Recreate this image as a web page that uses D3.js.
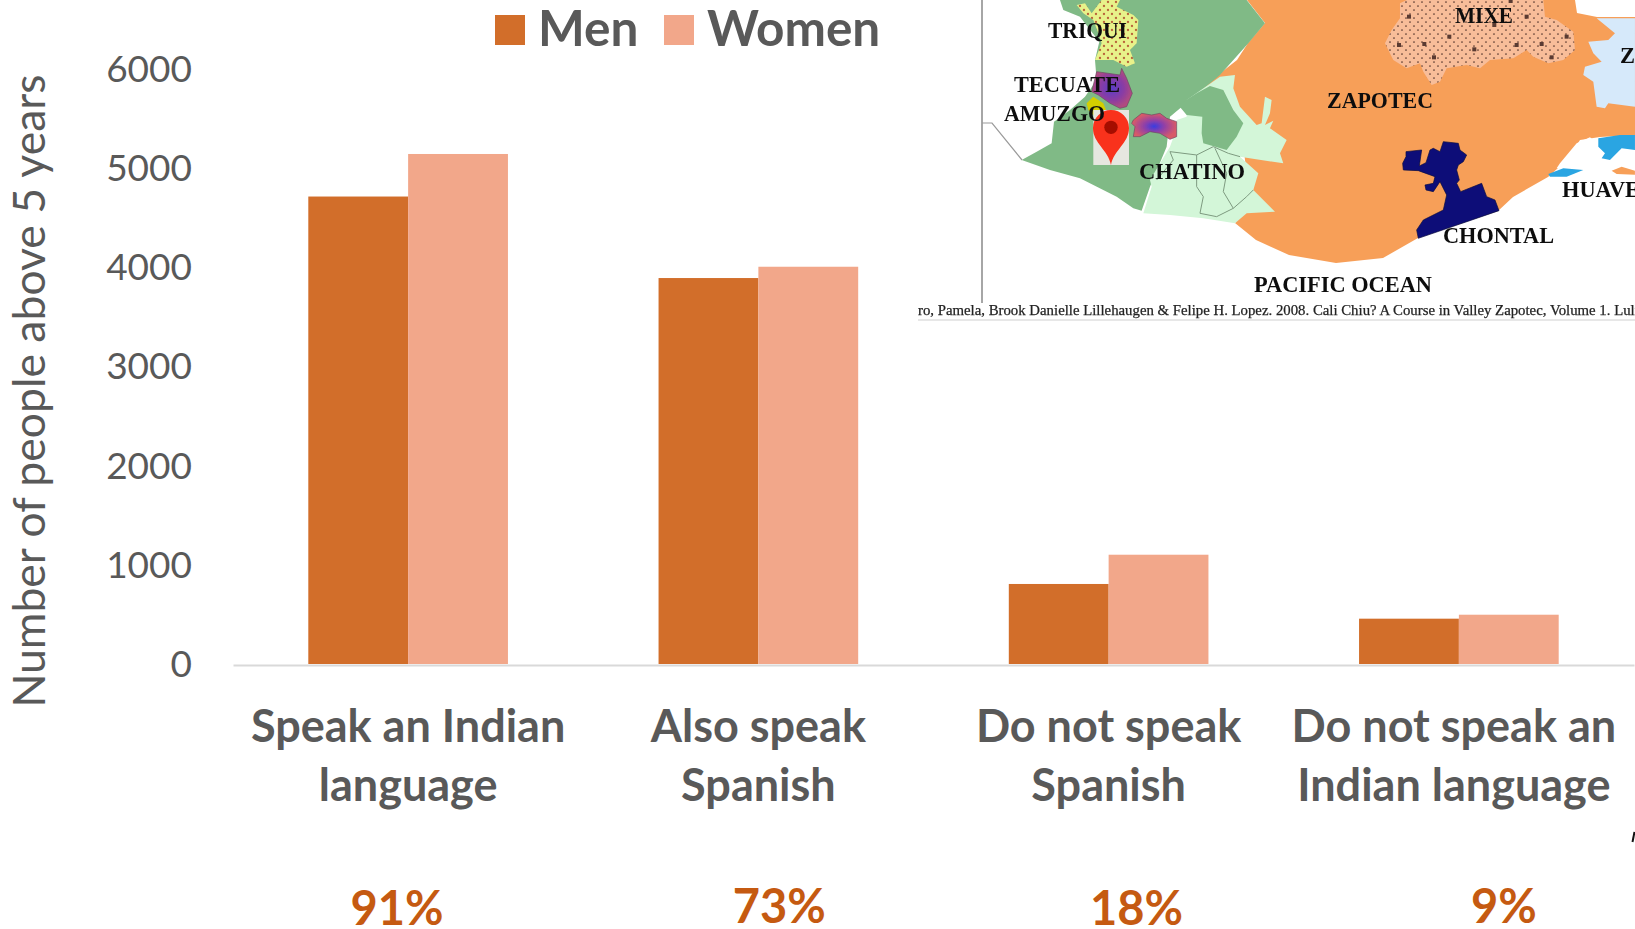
<!DOCTYPE html>
<html>
<head>
<meta charset="utf-8">
<script src="https://cdn.jsdelivr.net/npm/d3@7"></script>
<style>
html, body { margin: 0; padding: 0; background: #fff; overflow: hidden; }
svg { display: block; }
</style>
</head>
<body>
<script>
var w = 1635;
var h = 929;

// chart values
var categories = ["Speak an Indian language", "Also speak Spanish", "Do not speak Spanish", "Do not speak an Indian language"];
var categoryLines = [["Speak an Indian", "language"], ["Also speak", "Spanish"], ["Do not speak", "Spanish"], ["Do not speak an", "Indian language"]];
var seriesNames = ["Men", "Women"];
var men = [4714, 3892, 807, 457];
var women = [5143, 4006, 1102, 497];
var percents = ["91%", "73%", "18%", "9%"];
var yTicks = [0, 1000, 2000, 3000, 4000, 5000, 6000];

// where the labels sit relative to the band centre
var labelShift = [0, 0, 0, -5];
var percentShift = [-11, 21, 28, 45];
var percentBase = [925, 923, 925, 923];

var colors = ["#d26e2a", "#f2a78a"];
var grey = "#595959";
var font = "Lato, 'Open Sans', sans-serif";

var svg = d3.select("body").append("svg")
    .attr("width", w)
    .attr("height", h)
    .attr("viewBox", "0 0 " + w + " " + h);

var defs = svg.append("defs");

/* ---------- chart ---------- */

var x = d3.scaleBand()
    .domain(categories)
    .range([233, 1634])
    .paddingInner(0.43)
    .paddingOuter(0.215);

var x1 = d3.scaleBand()
    .domain(seriesNames)
    .range([0, x.bandwidth()]);

var y = d3.scaleLinear()
    .domain([0, 6000])
    .range([664, 69]);

var rows = categories.map(function (c, i) {
    return { cat: c, values: [men[i], women[i]] };
});

var bars = svg.selectAll(".cat")
    .data(rows)
    .enter().append("g")
    .attr("class", "cat")
    .attr("transform", function (d) { return "translate(" + x(d.cat) + ",0)"; });

bars.selectAll("rect")
    .data(function (d) { return d.values; })
    .enter().append("rect")
    .attr("x", function (d, i) { return x1(seriesNames[i]); })
    .attr("y", function (d) { return y(d); })
    .attr("width", x1.bandwidth())
    .attr("height", function (d) { return y(0) - y(d); })
    .attr("fill", function (d, i) { return colors[i]; });

var yAxis = svg.append("g")
    .attr("transform", "translate(195,0.5)")
    .call(d3.axisLeft(y).tickValues(yTicks).tickSize(0).tickPadding(3).tickFormat(d3.format("d")));
yAxis.select(".domain").remove();
yAxis.selectAll("text")
    .attr("font-family", font)
    .attr("font-size", 37)
    .attr("fill", grey);

var xAxis = svg.append("g")
    .attr("transform", "translate(0,665)")
    .call(d3.axisBottom(x).tickSize(0).tickFormat(""));
xAxis.select(".domain").attr("stroke", "#d9d9d9").attr("stroke-width", 2);
xAxis.selectAll("text").remove();

svg.append("g").selectAll("text")
    .data(categories)
    .enter().append("text")
    .attr("text-anchor", "middle")
    .attr("font-family", font)
    .attr("font-weight", 700)
    .attr("font-size", 45)
    .attr("fill", grey)
    .each(function (d, i) {
        var cx = x(d) + x.bandwidth() / 2 + labelShift[i];
        d3.select(this).selectAll("tspan")
            .data(categoryLines[i])
            .enter().append("tspan")
            .attr("x", cx)
            .attr("y", function (t, j) { return 742 + j * 59; })
            .text(function (t) { return t; });
    });

svg.append("g").selectAll("text")
    .data(percents)
    .enter().append("text")
    .attr("x", function (d, i) { return x(categories[i]) + x.bandwidth() / 2 + percentShift[i]; })
    .attr("y", function (d, i) { return percentBase[i]; })
    .attr("text-anchor", "middle")
    .attr("font-family", font)
    .attr("font-weight", 700)
    .attr("font-size", 47)
    .attr("fill", "#c55a11")
    .text(function (d) { return d; });

svg.append("text")
    .attr("transform", "translate(45,391) rotate(-90)")
    .attr("text-anchor", "middle")
    .attr("font-family", font)
    .attr("font-size", 44.5)
    .attr("fill", grey)
    .text("Number of people above 5 years");

// legend
var legendX = [495, 664];
var legend = svg.append("g").selectAll("g")
    .data(seriesNames)
    .enter().append("g")
    .attr("transform", function (d, i) { return "translate(" + legendX[i] + ",15)"; });
legend.append("rect")
    .attr("width", 30)
    .attr("height", 30)
    .attr("fill", function (d, i) { return colors[i]; });
legend.append("text")
    .attr("x", 43)
    .attr("y", 31)
    .attr("font-family", font)
    .attr("font-weight", 700)
    .attr("font-size", 49.5)
    .attr("fill", grey)
    .text(function (d) { return d; });

// stray mark at the right edge
svg.append("path")
    .attr("d", d3.line()([[1634.5, 832], [1632.5, 842]]))
    .attr("stroke", "#111")
    .attr("stroke-width", 2)
    .attr("fill", "none");

/* ---------- map inset (a pasted picture in the original) ---------- */

// outlines; west and east are 3x crops, orangeShape is page px
var orangeShape = [[1247,0],[1265,23],[1248,43],[1237,60],[1218,75],[1197,87],[1177,100],[1182,105],[1197,95],[1220,87],[1240,120],[1250,200],[1235,223],[1256,240],[1289,255],[1336,263],[1383,258],[1418,238],[1498,211],[1513,197],[1548,177],[1567,160],[1580,140],[1600,137],[1635,135],[1635,17],[1597,17],[1577,13],[1575,0]];
var greenShape = [[270,0],[830,0],[885,70],[835,130],[750,225],[660,300],[600,350],[590,440],[540,560],[515,632],[490,625],[440,590],[330,535],[240,510],[155,480],[200,455],[245,430],[252,365],[300,330],[345,290],[380,240],[375,180],[388,125],[330,50],[280,30]];
var paleShape = [[750,230],[795,225],[790,265],[810,320],[860,375],[875,370],[885,290],[905,300],[900,340],[885,375],[910,362],[900,385],[950,420],[930,460],[940,490],[810,470],[865,520],[850,570],[915,635],[830,640],[795,670],[700,655],[600,645],[520,640],[545,560],[540,540],[600,440],[620,385],[620,360],[650,350],[650,300]];
var pocketShape = [[680,280],[720,258],[760,270],[790,330],[820,370],[800,410],[770,450],[700,430],[695,400],[697,350],[650,345],[625,315]];
var triquiShape = [[320,15],[345,10],[365,40],[395,0],[450,0],[440,20],[490,45],[505,60],[500,130],[480,150],[495,190],[470,200],[430,180],[375,180],[395,130],[385,100],[370,60],[340,40]];
var tecuateShape = [[380,215],[450,225],[455,205],[470,235],[487,280],[470,320],[450,325],[420,310],[385,285],[365,275]];
var blobShape = [[490,360],[515,340],[545,345],[570,340],[590,355],[620,365],[620,410],[600,418],[570,400],[540,395],[510,410],[490,410],[495,380],[485,370]];
var amuzgoShape = [[350,310],[370,290],[400,310],[410,335],[370,345],[355,330]];
var borderLines = [
    [[600,455],[680,465],[730,440],[775,460],[810,470]],
    [[680,465],[680,510],[680,560],[700,590],[690,640],[740,650],[790,625],[830,590],[850,570]],
    [[735,445],[770,520],[760,575],[790,625]],
    [[600,455],[610,480],[560,540]]
];
var mixeShape = [[300,10],[320,0],[730,0],[735,50],[770,60],[820,95],[825,150],[790,180],[745,190],[700,170],[680,150],[640,175],[570,180],[540,205],[500,195],[440,205],[420,245],[395,255],[370,215],[360,190],[320,205],[280,180],[255,130],[275,90],[300,55]];
var mixeMarks = [[327,50],[632,3],[583,75],[680,50],[800,110],[448,110],[297,135],[373,132],[523,148],[650,135],[725,132],[402,172],[755,172]];
var blueShape = [[890,55],[945,100],[925,120],[865,125],[880,160],[905,185],[855,200],[850,225],[880,245],[890,320],[915,325],[925,310],[1005,320],[1005,55]];
var chontalShape = [[318,455],[365,450],[358,498],[378,488],[390,450],[400,445],[420,455],[430,425],[475,430],[480,450],[500,465],[490,485],[475,495],[470,510],[478,540],[470,550],[482,575],[545,550],[560,590],[585,600],[597,632],[355,715],[350,690],[370,660],[430,630],[440,585],[420,545],[400,575],[378,570],[375,555],[400,550],[405,530],[355,512],[310,510],[308,490],[318,470]];
var huaveWhite = [[780,490],[830,430],[870,412],[905,440],[915,465],[880,490],[930,480],[970,445],[1005,450],[1005,490],[980,510],[920,515],[860,505],[770,505]];
var huaveBlue = [[895,415],[960,405],[1005,405],[1005,450],[965,445],[930,480],[905,475],[915,460],[895,440]];
var huaveStrip = [[745,522],[790,505],[850,510],[800,530],[750,530]];
var huaveOrange = [[935,512],[965,500],[1005,512],[1005,524],[950,522]];

var mapLabels = [
    ["TRIQUI", 1048, 38, 79], ["TECUATE", 1014, 92, 106], ["AMUZGO", 1004, 121, 101],
    ["CHATINO", 1139, 179, 106], ["ZAPOTEC", 1327, 108, 106], ["MIXE", 1455, 23, 58],
    ["CHONTAL", 1443, 243, 111], ["HUAVE", 1562, 197, 78], ["PACIFIC OCEAN", 1254, 292, 178],
    ["Z", 1620, 63, 15]
];

var closedPath = d3.line().curve(d3.curveLinearClosed);
var openPath = d3.line();

var blur = defs.append("filter").attr("id", "soft");
blur.append("feGaussianBlur").attr("stdDeviation", 0.6);

var triquiDots = defs.append("pattern").attr("id", "triquiDots")
    .attr("patternUnits", "userSpaceOnUse").attr("width", 24).attr("height", 24);
triquiDots.append("rect").attr("width", 24).attr("height", 24).attr("fill", "#e8f28a");
triquiDots.append("circle").attr("cx", 6).attr("cy", 6).attr("r", 3.5).attr("fill", "#b8623a");
triquiDots.append("circle").attr("cx", 18).attr("cy", 18).attr("r", 3.5).attr("fill", "#b8623a");

var mixeDots = defs.append("pattern").attr("id", "mixeDots")
    .attr("patternUnits", "userSpaceOnUse").attr("width", 24).attr("height", 24);
mixeDots.append("rect").attr("width", 24).attr("height", 24).attr("fill", "#f8bd99");
mixeDots.append("circle").attr("cx", 6).attr("cy", 6).attr("r", 2.6).attr("fill", "#5a3a30");
mixeDots.append("circle").attr("cx", 18).attr("cy", 18).attr("r", 2.6).attr("fill", "#5a3a30");

var tecGrad = defs.append("radialGradient").attr("id", "tecGrad");
tecGrad.append("stop").attr("offset", "0%").attr("stop-color", "#5a3cc8");
tecGrad.append("stop").attr("offset", "60%").attr("stop-color", "#8b3da2");
tecGrad.append("stop").attr("offset", "100%").attr("stop-color", "#b04a80");

var blobGrad = defs.append("radialGradient").attr("id", "blobGrad");
blobGrad.append("stop").attr("offset", "0%").attr("stop-color", "#3a3ce0");
blobGrad.append("stop").attr("offset", "45%").attr("stop-color", "#9040a8");
blobGrad.append("stop").attr("offset", "100%").attr("stop-color", "#d85a68");

var map = svg.append("g").attr("filter", "url(#soft)");

map.append("path").attr("d", closedPath(orangeShape)).attr("fill", "#f79f59");

var west = map.append("g").attr("transform", "translate(970,0) scale(0.3333)");
var east = map.append("g").attr("transform", "translate(1300,0) scale(0.3333)");

west.append("path").attr("d", closedPath(greenShape)).attr("fill", "#80ba86");
west.append("path").attr("d", closedPath(paleShape)).attr("fill", "#d3f6d8");
west.append("path").attr("d", closedPath(pocketShape)).attr("fill", "#80ba86");
west.selectAll(".border")
    .data(borderLines)
    .enter().append("path")
    .attr("class", "border")
    .attr("d", openPath)
    .attr("fill", "none")
    .attr("stroke", "#7d9a80")
    .attr("stroke-width", 3);
west.append("path").attr("d", closedPath(triquiShape)).attr("fill", "url(#triquiDots)");
west.append("path").attr("d", closedPath(amuzgoShape)).attr("fill", "#d4cf00");
west.append("path").attr("d", closedPath(tecuateShape)).attr("fill", "url(#tecGrad)").attr("stroke", "#6a4a60").attr("stroke-width", 2);
west.append("path").attr("d", closedPath(blobShape)).attr("fill", "url(#blobGrad)").attr("stroke", "#6a4a60").attr("stroke-width", 2);

east.append("path").attr("d", closedPath(mixeShape)).attr("fill", "url(#mixeDots)");
east.selectAll(".mark")
    .data(mixeMarks)
    .enter().append("rect")
    .attr("class", "mark")
    .attr("x", function (d) { return d[0] - 6; })
    .attr("y", function (d) { return d[1] - 6; })
    .attr("width", 12)
    .attr("height", 12)
    .attr("fill", "#5a3a30");
east.append("path").attr("d", closedPath(blueShape)).attr("fill", "#d6e9fa");
east.append("path").attr("d", closedPath(chontalShape)).attr("fill", "#0b0f78").attr("stroke", "#060a40").attr("stroke-width", 2);
east.append("path").attr("d", closedPath(huaveWhite)).attr("fill", "#fff");
east.append("path").attr("d", closedPath(huaveBlue)).attr("fill", "#2aa5e2");
east.append("path").attr("d", closedPath(huaveStrip)).attr("fill", "#2aa5e2");
east.append("path").attr("d", closedPath(huaveOrange)).attr("fill", "#f79f59");

// grey frame line, coast stub and caption rule
map.append("path").attr("d", openPath([[982, 0], [982, 303]])).attr("stroke", "#a6a6a6").attr("stroke-width", 2).attr("fill", "none");
map.append("path").attr("d", openPath([[982, 123], [992, 123], [1022, 160]])).attr("stroke", "#9a9a9a").attr("stroke-width", 1.2).attr("fill", "none");
map.append("path").attr("d", openPath([[918, 320], [1635, 320]])).attr("stroke", "#cfcfcf").attr("stroke-width", 1).attr("fill", "none");

map.selectAll(".mapLabel")
    .data(mapLabels)
    .enter().append("text")
    .attr("class", "mapLabel")
    .attr("x", function (d) { return d[1]; })
    .attr("y", function (d) { return d[2]; })
    .attr("textLength", function (d) { return d[3]; })
    .attr("lengthAdjust", "spacingAndGlyphs")
    .attr("font-family", "'Liberation Serif', serif")
    .attr("font-weight", 700)
    .attr("font-size", 22.5)
    .attr("fill", "#111")
    .text(function (d) { return d[0]; });

map.append("text")
    .attr("x", 918)
    .attr("y", 315)
    .attr("font-family", "'Liberation Serif', serif")
    .attr("font-size", 14.8)
    .attr("stroke", "#222")
    .attr("stroke-width", 0.25)
    .attr("fill", "#222")
    .text("ro, Pamela, Brook Danielle Lillehaugen & Felipe H. Lopez. 2008. Cali Chiu? A Course in Valley Zapotec, Volume 1. Lulu");

// map pin with its thumbnail behind it, west crop coordinates
var pin = west.append("g");
pin.append("rect").attr("x", 370).attr("y", 330).attr("width", 107).attr("height", 165).attr("fill", "#e6e7e0");
pin.append("path")
    .attr("d", "M423,495 C415,450 369,430 369,384 A54,54 0 1 1 477,384 C477,430 431,450 423,495 Z")
    .attr("fill", "#f9301a");
pin.append("circle").attr("cx", 423).attr("cy", 382).attr("r", 20).attr("fill", "#a50f00");
</script>
</body>
</html>
